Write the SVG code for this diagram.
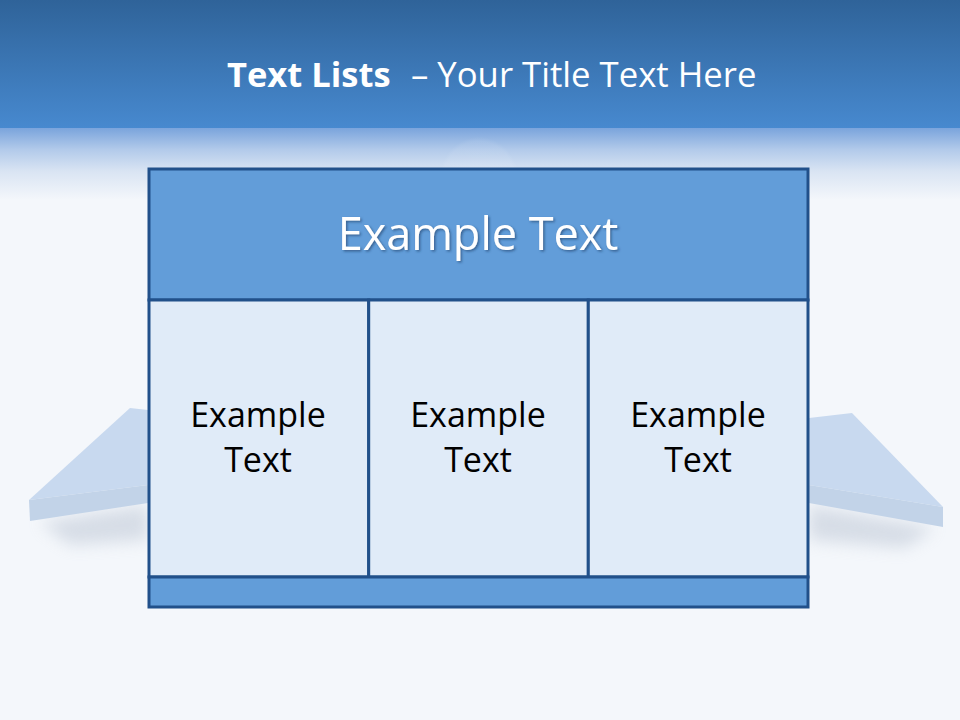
<svg xmlns="http://www.w3.org/2000/svg" width="960" height="720" viewBox="0 0 960 720">
<defs>
<linearGradient id="topg" x1="0" y1="0" x2="0" y2="1">
<stop offset="0" stop-color="#2f6399"/>
<stop offset="1" stop-color="#4789cf"/>
</linearGradient>
<linearGradient id="fadeg" x1="0" y1="0" x2="0" y2="1">
<stop offset="0" stop-color="#7aa4dc"/>
<stop offset="0.3" stop-color="#b2caea"/>
<stop offset="0.6" stop-color="#d9e4f3"/>
<stop offset="1" stop-color="#f4f7fb"/>
</linearGradient>
<radialGradient id="circ" cx="0.5" cy="0.6" r="0.5">
<stop offset="0" stop-color="#ffffff" stop-opacity="0.1"/>
<stop offset="0.9" stop-color="#ffffff" stop-opacity="0.07"/>
<stop offset="1" stop-color="#ffffff" stop-opacity="0"/>
</radialGradient>
<filter id="blur" x="-30%" y="-100%" width="160%" height="300%">
<feGaussianBlur stdDeviation="8"/>
</filter>
<filter id="tshadow" x="-10%" y="-20%" width="120%" height="140%">
<feDropShadow dx="1.5" dy="1.5" stdDeviation="1" flood-color="#1c3d66" flood-opacity="0.6"/>
</filter>
</defs>
<style>
.frame{stroke:#21508a;stroke-width:3}
.dark{fill:#629dd9}
.light{fill:#e0ebf8}
.cell{font-family:"Open Sans","DejaVu Sans",sans-serif;font-size:34px;fill:#000;text-anchor:middle}
.head{font-family:"Open Sans","DejaVu Sans",sans-serif;font-size:45px;fill:#fff;text-anchor:middle}
.title{font-family:"Open Sans","DejaVu Sans",sans-serif;fill:#fff}
</style>
<rect width="960" height="720" fill="#f4f7fb"/>
<rect x="0" y="0" width="960" height="128" fill="url(#topg)"/>
<rect x="0" y="128" width="960" height="72" fill="url(#fadeg)"/>
<ellipse cx="479" cy="172" rx="40" ry="44" fill="url(#circ)"/>
<g id="title">
<text class="title" x="227" y="87" font-size="34.5" font-weight="bold">Text Lists</text>
<text class="title" x="411" y="87" font-size="34.7">– Your Title Text Here</text>
</g>
<g id="wings">
<polygon points="40,522 148,505 148,540 70,545" fill="#aab6c8" opacity="0.4" filter="url(#blur)"/>
<polygon points="809,505 935,528 905,548 809,540" fill="#aab6c8" opacity="0.4" filter="url(#blur)"/>
<polygon points="130,408 148,410 148,485 29,500" fill="#c8d9ef"/>
<polygon points="29,500 148,485 148,503 30,521" fill="#c2d3e8"/>
<polygon points="852,413 809,418 809,485 943,507" fill="#c8d9ef"/>
<polygon points="943,507 809,485 809,503 943,527" fill="#c2d3e8"/>
</g>
<g id="header">
<rect class="dark frame" x="149" y="169" width="659" height="131"/>
<text class="head" x="478" y="250" filter="url(#tshadow)">Example Text</text>
</g>
<g id="cell1">
<rect class="light frame" x="149" y="300" width="219.7" height="277"/>
<text class="cell" x="258" y="427">Example</text>
<text class="cell" x="258" y="472">Text</text>
</g>
<g id="cell2">
<rect class="light frame" x="368.7" y="300" width="219.6" height="277"/>
<text class="cell" x="478" y="427">Example</text>
<text class="cell" x="478" y="472">Text</text>
</g>
<g id="cell3">
<rect class="light frame" x="588.3" y="300" width="219.7" height="277"/>
<text class="cell" x="698" y="427">Example</text>
<text class="cell" x="698" y="472">Text</text>
</g>
<g id="footer">
<rect class="dark frame" x="149" y="577" width="659" height="30"/>
</g>
<g id="connectors"/>
</svg>
